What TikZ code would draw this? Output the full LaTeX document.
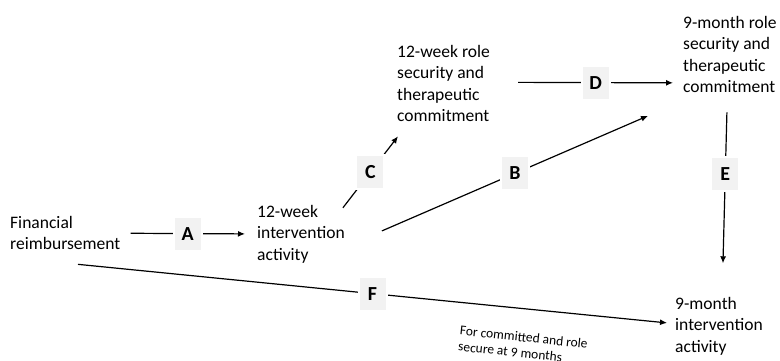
\documentclass[tikz,border=0pt]{standalone}
\usepackage{fontspec}
\setmainfont{Carlito}
\usetikzlibrary{arrows.meta,calc}

\newcommand{\boxWid}{28bp}
\newcommand{\boxHei}{34bp}
\newcommand{\conThick}{1.2bp}
\definecolor{boxGray}{HTML}{F2F2F2}

\tikzset{
  txt/.style ={anchor=base west, align=left, inner sep=0pt, font=\fontsize{17.6}{21.5}\selectfont},
  note/.style={align=left, inner sep=0pt, rotate=-6, font=\fontsize{13.5}{16}\selectfont},
  lbl/.style ={fill=boxGray, draw=white, line width=2bp, minimum width=\boxWid, minimum height=\boxHei, inner sep=0pt, font=\fontsize{20}{24}\selectfont\bfseries},
  conn/.style={line width=\conThick, black, -{Latex[length=7bp,width=6bp]}},
}

\begin{document}
\begin{tikzpicture}[x=1bp, y=-1bp]

  \useasboundingbox (0,0) rectangle (780,360);

  % Text (anchored at the last line):
  \node[txt] (fin)    at ( 10,249.5) {Financial\\reimbursement};
  \node[txt] (int12)  at (257,260)   {12-week\\intervention\\activity};
  \node[txt] (role12) at (397,121.5) {12-week role\\security and\\therapeutic\\commitment};
  \node[txt] (role9)  at (683, 92.5) {9-month role\\security and\\therapeutic\\commitment};
  \node[txt] (int9)   at (675,352)   {9-month\\intervention\\activity};
  \node[note] (cond)  at (523,345)   {For committed and role\\secure at 9 months};

  % Paths:
  \draw[conn] ($(fin.east)+(10,0.5)$)           -- node[lbl] (lA) {A} ($(int12.west)+(-12,0)$);
  \draw[conn] ($(int12.north east)+(-2,3)$)     -- node[lbl] (lC) {C} ($(role12.south west)+(1,14.5)$);
  \draw[conn] ($(int12.east)+(37,-3)$)          -- node[lbl] (lB) {B} ($(role9.south west)+(-35,23)$);
  \draw[conn] ($(role12.east)+(28,-1)$)         -- node[lbl] (lD) {D} ($(role9.south west)+(-10,-10)$);
  \draw[conn] ($(role9.south)+(-3,19.5)$)       -- node[lbl, pos=0.41] (lE) {E} ($(int9.north)+(4,-33.5)$);
  \draw[conn] ($(fin.south west)+(68,14.5)$)    -- node[lbl] (lF) {F} ($(int9.west)+(-8,-3)$);

\end{tikzpicture}
\end{document}
